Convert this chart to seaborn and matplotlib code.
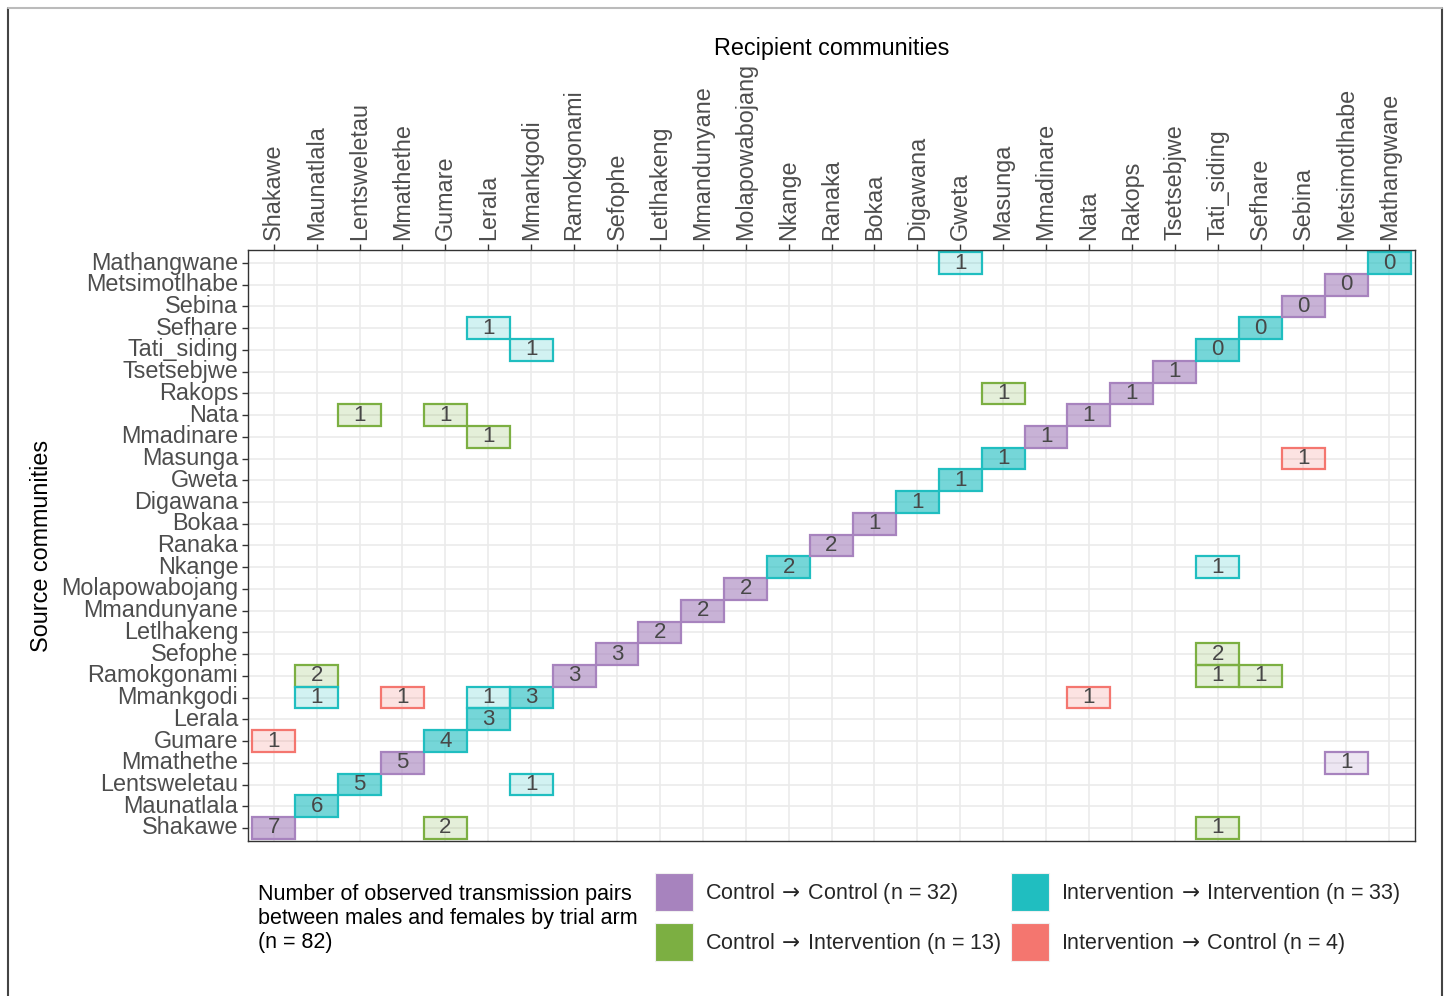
import numpy as np
import pandas as pd
import matplotlib
matplotlib.use("Agg")
import matplotlib.pyplot as plt
from matplotlib.colors import ListedColormap, to_rgba
from matplotlib.patches import Patch, Rectangle
from matplotlib.lines import Line2D
import seaborn as sns

# Communities in axis order (bottom-to-top for sources, left-to-right for recipients)
communities = ["Shakawe", "Maunatlala", "Lentsweletau", "Mmathethe", "Gumare", "Lerala",
               "Mmankgodi", "Ramokgonami", "Sefophe", "Letlhakeng", "Mmandunyane",
               "Molapowabojang", "Nkange", "Ranaka", "Bokaa", "Digawana", "Gweta", "Masunga",
               "Mmadinare", "Nata", "Rakops", "Tsetsebjwe", "Tati_siding", "Sefhare", "Sebina",
               "Metsimotlhabe", "Mathangwane"]
# Trial arm of each community: C = control, I = intervention
community_arm = ["C", "I", "I", "C", "I", "I", "I", "C", "C", "C", "C", "C", "I", "C", "C",
                 "I", "I", "I", "C", "C", "C", "C", "I", "I", "C", "C", "I"]

# Within-community pairs (diagonal)
diag_pairs = [7, 6, 5, 5, 4, 3, 3, 3, 3, 2, 2, 2, 2, 2, 1, 1, 1, 1, 1, 1, 1, 1, 0, 0, 0, 0, 0]

# Between-community pairs
off_source = ["Mathangwane", "Sefhare", "Tati_siding", "Rakops", "Nata", "Nata", "Mmadinare",
              "Masunga", "Nkange", "Sefophe", "Ramokgonami", "Ramokgonami", "Ramokgonami",
              "Mmankgodi", "Mmankgodi", "Mmankgodi", "Mmankgodi", "Gumare", "Mmathethe",
              "Lentsweletau", "Shakawe", "Shakawe"]
off_recipient = ["Gweta", "Lerala", "Mmankgodi", "Masunga", "Lentsweletau", "Gumare", "Lerala",
                 "Sebina", "Tati_siding", "Tati_siding", "Maunatlala", "Tati_siding", "Sefhare",
                 "Maunatlala", "Mmathethe", "Lerala", "Nata", "Shakawe", "Metsimotlhabe",
                 "Mmankgodi", "Gumare", "Tati_siding"]
off_pairs = [1, 1, 1, 1, 1, 1, 1, 1, 1, 2, 2, 1, 1, 1, 1, 1, 1, 1, 1, 1, 2, 1]

arm_keys = ["CC", "CI", "II", "IC"]
ARROW = r"$\,\rightarrow\,$"
arm_names = {"CC": f"Control{ARROW}Control", "CI": f"Control{ARROW}Intervention",
             "II": f"Intervention{ARROW}Intervention", "IC": f"Intervention{ARROW}Control"}
arm_colors = {"CC": "#A783BE", "CI": "#7CAF42", "II": "#20BEC0", "IC": "#F4766F"}

# Assemble the long table of transmission pairs
arm_of = dict(zip(communities, community_arm))
df = pd.DataFrame({
    "source": communities + off_source,
    "recipient": communities + off_recipient,
    "pairs": diag_pairs + off_pairs,
})
df["arm"] = [arm_of[s] + arm_of[r] for s, r in zip(df.source, df.recipient)]
df["within"] = df.source == df.recipient
df["code"] = [arm_keys.index(a) * 2 + (0 if w else 1) for a, w in zip(df.arm, df.within)]
arm_totals = df.groupby("arm")["pairs"].sum()
total_pairs = int(df["pairs"].sum())

# Matrices for the heatmap: rows top-to-bottom, columns left-to-right
row_order = communities[::-1]
code_mat = df.pivot(index="source", columns="recipient", values="code").reindex(
    index=row_order, columns=communities)
annot_mat = df.pivot(index="source", columns="recipient", values="pairs").reindex(
    index=row_order, columns=communities)
annot_str = annot_mat.map(lambda v: "" if pd.isna(v) else f"{int(v)}")

alpha_within, alpha_between = 0.62, 0.2
cell_colors = []
for a in arm_keys:
    cell_colors.append(to_rgba(arm_colors[a], alpha_within))
    cell_colors.append(to_rgba(arm_colors[a], alpha_between))
cmap = ListedColormap(cell_colors)

sns.set_theme(style="white")
plt.rcParams["font.family"] = ["Liberation Sans", "DejaVu Sans"]
plt.rcParams["mathtext.fontset"] = "dejavusans"

W, H = 1447, 996
fig = plt.figure(figsize=(W / 100, H / 100), dpi=100)
ax = fig.add_axes([248 / W, 1 - 841 / H, (1415 - 248) / W, (841 - 250) / H])

sns.heatmap(code_mat, mask=code_mat.isna(), cmap=cmap, vmin=-0.5, vmax=7.5,
            annot=annot_str.values, fmt="", cbar=False, linewidths=0, ax=ax,
            annot_kws={"fontsize": 16, "color": "#474747"})

# Tile outlines in the full arm colour
for s, r, a in zip(df.source, df.recipient, df.arm):
    ax.add_patch(Rectangle((communities.index(r), row_order.index(s)), 1, 1, fill=False,
                           edgecolor=arm_colors[a], lw=1.6, zorder=2))

n = len(communities)
ax.set_xlim(-0.1, n + 0.1)
ax.set_ylim(n + 0.1, -0.1)
ax.set_xticks(np.arange(n) + 0.5)
ax.set_xticklabels(communities, rotation=90)
ax.set_yticks(np.arange(n) + 0.5)
ax.set_yticklabels(row_order, rotation=0)
ax.xaxis.tick_top()
ax.set_xlabel("")
ax.set_ylabel("")
ax.tick_params(axis="both", which="major", labelsize=16.8, labelcolor="#4D4D4D",
               color="#333333", length=4.5, width=1.0, pad=2.5)
ax.tick_params(axis="x", top=True, bottom=False)
ax.tick_params(axis="y", left=True)
ax.grid(True, color="#EBEBEB", lw=1.2)
ax.set_axisbelow(True)
for sp in ax.spines.values():
    sp.set_visible(True)
    sp.set_color("#333333")
    sp.set_linewidth(1.0)

# Axis titles
fig.text(831.5 / W, 1 - 48 / H, "Recipient communities", ha="center", va="center",
         fontsize=16.8, color="black")
fig.text(42 / W, 1 - 545.5 / H, "Source communities", ha="center", va="center",
         rotation=90, fontsize=16.8, color="black")

# Legend
fig.text(258 / W, 1 - 918.5 / H,
         f"Number of observed transmission pairs\nbetween males and females by trial arm\n(n = {total_pairs})",
         ha="left", va="center", fontsize=15.5, color="black", linespacing=1.17)
handles = [Patch(facecolor=arm_colors[a], edgecolor="#F0F0F0", lw=0.8) for a in arm_keys]
labels = [f"{arm_names[a]} (n = {int(arm_totals[a])})" for a in arm_keys]
fig.legend(handles, labels, ncol=2, loc="upper left",
           bbox_to_anchor=(655 / W, 1 - 873 / H), frameon=False, fontsize=15.5,
           handlelength=1.78, handleheight=2.34, handletextpad=0.55, labelspacing=0.56,
           columnspacing=0.45, borderpad=0, borderaxespad=0)

# Outer frame
fig.add_artist(Line2D([7.5 / W, 7.5 / W], [0, 1 - 8 / H], color="#444444", lw=1.5))
fig.add_artist(Line2D([1441.5 / W, 1441.5 / W], [0, 1 - 8 / H], color="#444444", lw=1.5))
fig.add_artist(Line2D([7.5 / W, 1441.5 / W], [1 - 8 / H, 1 - 8 / H], color="#BBBBBB", lw=1.5))

fig.savefig("out.png", dpi=100)
